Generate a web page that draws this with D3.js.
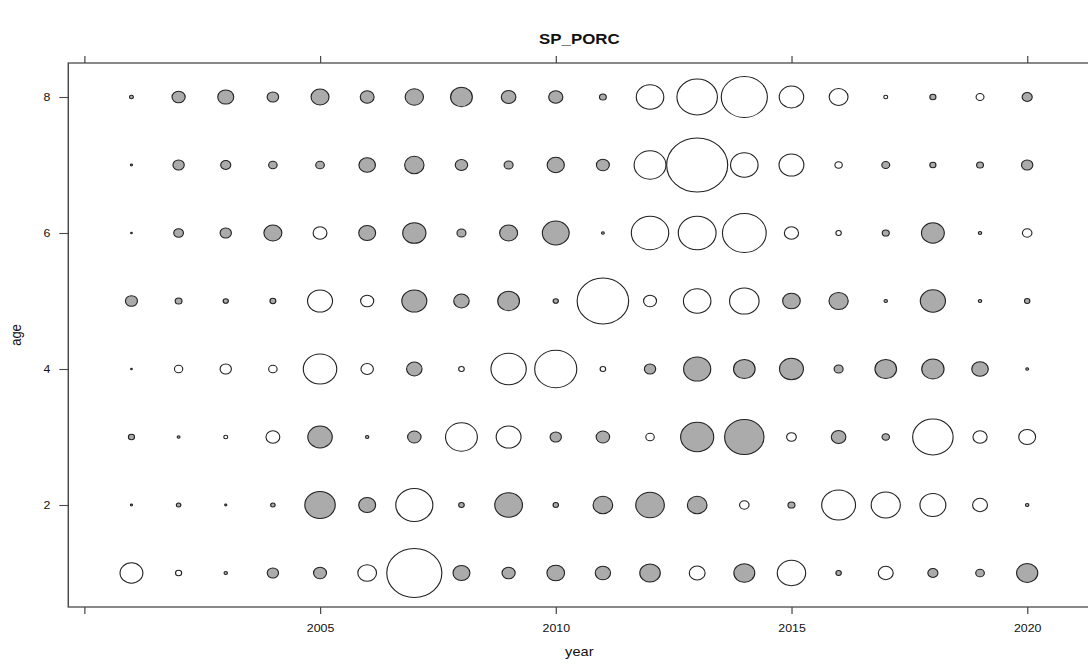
<!DOCTYPE html>
<html>
<head>
<meta charset="utf-8">
<script src="https://cdn.jsdelivr.net/npm/d3@7/dist/d3.min.js"></script>
<style>
  html, body { margin: 0; padding: 0; background: #fff; }
  svg { display: block; }
  text { font-family: "Liberation Sans", Arial, Helvetica, sans-serif; }
</style>
</head>
<body>
<div id="chart"></div>
<script>
// Residual bubble plot, catch-at-age by year (SP_PORC)
const years = [2001, 2002, 2003, 2004, 2005, 2006, 2007, 2008, 2009, 2010,
               2011, 2012, 2013, 2014, 2015, 2016, 2017, 2018, 2019, 2020];
const ages = [1, 2, 3, 4, 5, 6, 7, 8];

// residuals per age, one entry per year (positive = filled, negative = open)
const resAge1 = [-1.27, -0.34, 0.19, 0.63, 0.72, -1.04, -3.06, 0.94, 0.73, 0.98,
                  0.85, 1.14, -0.88, 1.16, -1.58, 0.30, -0.83, 0.56, 0.48, 1.18];
const resAge2 = [0.12, 0.25, 0.12, 0.25, 1.69, 0.94, -2.06, 0.31, 1.54, 0.30,
                 1.09, 1.59, 1.09, -0.53, 0.39, -1.88, -1.62, -1.44, -0.83, 0.19];
const resAge3 = [0.34, 0.16, -0.22, -0.77, 1.36, 0.19, 0.75, -1.77, -1.38, 0.63,
                 0.75, -0.47, 1.84, 2.19, -0.54, 0.81, 0.41, -2.25, -0.79, -0.94];
const resAge4 = [0.09, -0.46, -0.63, -0.47, -1.86, -0.69, 0.86, -0.31, -1.96, -2.34,
                 -0.31, 0.63, 1.51, 1.20, 1.33, 0.50, 1.20, 1.24, 0.92, 0.16];
const resAge5 = [0.67, 0.38, 0.29, 0.33, -1.39, -0.73, 1.39, 0.86, 1.21, 0.29,
                 -2.86, -0.72, -1.53, -1.64, 0.98, 1.07, 0.19, 1.40, 0.19, 0.30];
const resAge6 = [0.09, 0.54, 0.63, 1.00, -0.77, 0.94, 1.29, 0.50, 1.00, 1.49,
                 0.16, -2.08, -2.10, -2.43, -0.79, -0.30, 0.39, 1.27, 0.19, -0.53];
const resAge7 = [0.12, 0.63, 0.56, 0.47, 0.48, 0.92, 1.08, 0.69, 0.50, 0.96,
                 0.72, -1.77, -3.39, -1.53, -1.38, -0.41, 0.44, 0.34, 0.38, 0.63];
const resAge8 = [0.22, 0.73, 0.89, 0.64, 1.00, 0.77, 1.02, 1.21, 0.81, 0.79,
                 0.38, -1.53, -2.25, -2.56, -1.36, -1.05, -0.22, 0.34, -0.44, 0.56];

const xTicks = [2000, 2005, 2010, 2015, 2020];
const yTicks = [2, 4, 6, 8];
const titleText = "SP_PORC";
const xLabel = "year";
const yLabel = "age";

const residuals = [resAge1, resAge2, resAge3, resAge4, resAge5, resAge6, resAge7, resAge8];
const cells = [];
ages.forEach((a, i) => {
  years.forEach((yr, j) => cells.push({ year: yr, age: a, value: residuals[i][j] }));
});

const W = 1088, H = 666;
const stretch = 1.125;               // device is wider than the plotting units
const innerW = W / stretch;

const svg = d3.select("#chart").append("svg")
  .attr("width", W).attr("height", H);

const g = svg.append("g").attr("transform", `scale(${stretch},1)`);

const x = d3.scaleLinear().domain([1999.66, 2021.34]).range([60.7, 969.2]);
const y = d3.scaleLinear().domain([0.5, 8.5]).range([607, 63]);
const maxAbs = d3.max(cells, d => Math.abs(d.value));
const r = d3.scaleLinear().domain([0, maxAbs]).range([0, maxAbs * 8]);

const boxColor = "#4a4a4a";

// panel box
g.append("rect")
  .attr("x", x.range()[0]).attr("y", y.range()[1])
  .attr("width", x.range()[1] - x.range()[0])
  .attr("height", y.range()[0] - y.range()[1])
  .attr("fill", "none").attr("stroke", boxColor).attr("stroke-width", 1.3);

function styleAxis(sel) {
  sel.select(".domain").remove();
  sel.selectAll(".tick line").attr("stroke", boxColor).attr("stroke-width", 1.1);
  sel.selectAll(".tick text").attr("fill", "#111").attr("font-size", 11)
    .style("font-family", '"Liberation Sans", Arial, sans-serif');
}

g.append("g").attr("transform", `translate(0,${y.range()[0]})`)
  .call(d3.axisBottom(x).tickValues(xTicks)
    .tickFormat(d => d === 2000 ? "" : d3.format("d")(d))
    .tickSize(7).tickSizeOuter(0).tickPadding(10))
  .call(styleAxis);

g.append("g").attr("transform", `translate(0,${y.range()[1]})`)
  .call(d3.axisTop(x).tickValues(xTicks).tickFormat("")
    .tickSize(7).tickSizeOuter(0))
  .call(styleAxis);

g.append("g").attr("transform", `translate(${x.range()[0]},0)`)
  .call(d3.axisLeft(y).tickValues(yTicks).tickFormat(d3.format("d"))
    .tickSize(8).tickSizeOuter(0).tickPadding(8))
  .call(styleAxis);

// bubbles
g.append("g").selectAll("circle")
  .data(cells)
  .join("circle")
  .attr("cx", d => x(d.year))
  .attr("cy", d => y(d.age))
  .attr("r", d => r(Math.abs(d.value)))
  .attr("fill", d => d.value > 0 ? "#ababab" : "#ffffff")
  .attr("stroke", "#222")
  .attr("stroke-width", 1);

// titles
const midX = (x.range()[0] + x.range()[1]) / 2;
g.append("text").attr("x", midX).attr("y", 44)
  .attr("text-anchor", "middle").attr("font-size", 15).attr("font-weight", "bold")
  .attr("fill", "#111").text(titleText);

g.append("text").attr("x", midX).attr("y", 656)
  .attr("text-anchor", "middle").attr("font-size", 13).attr("fill", "#111")
  .text(xLabel);

g.append("text").attr("transform", `translate(19,${y(4.5)}) rotate(-90)`)
  .attr("text-anchor", "middle").attr("font-size", 13).attr("fill", "#111")
  .text(yLabel);
</script>
</body>
</html>
